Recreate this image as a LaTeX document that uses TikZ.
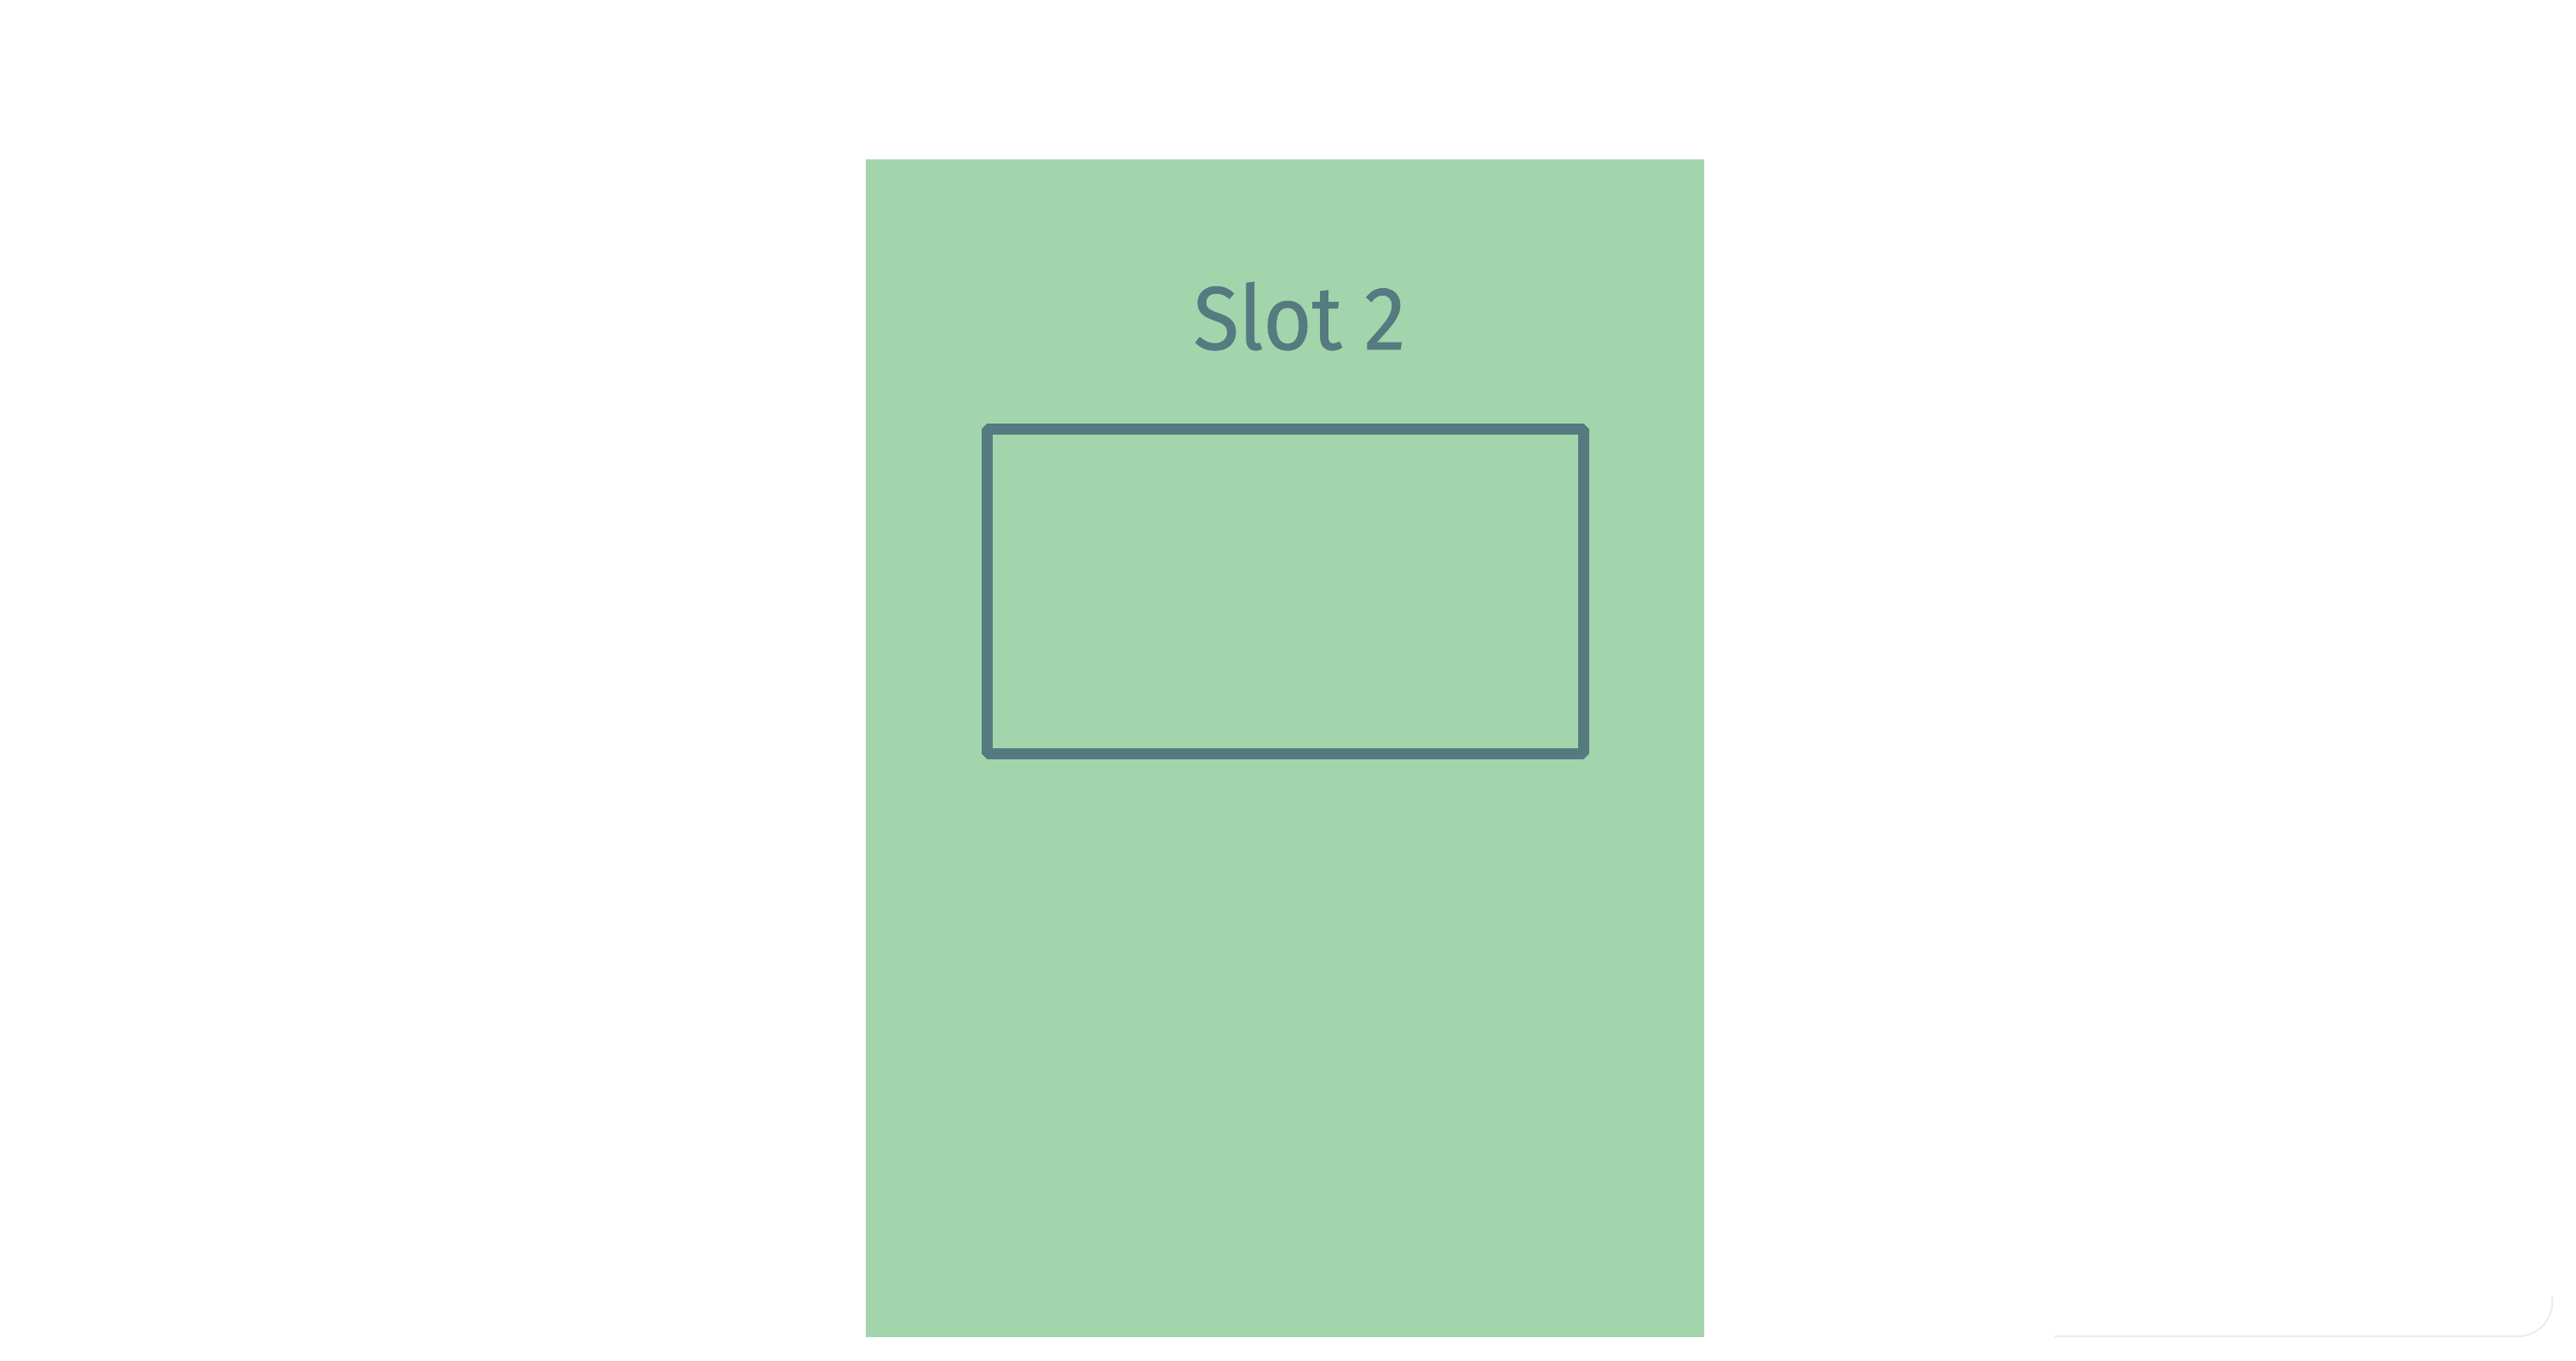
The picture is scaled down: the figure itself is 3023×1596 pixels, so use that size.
\documentclass[tikz,border=0pt]{standalone}
\usepackage{fontspec}
\setmainfont{Fira Sans}
\newfontfamily\slotfont{Fira Sans}[FakeStretch=0.93,FakeBold=0.6]
\definecolor{slotgreen}{RGB}{163,213,173}
\definecolor{slotline}{RGB}{85,122,128}
\definecolor{edgefaint}{RGB}{226,241,230}

\begin{document}
\begin{tikzpicture}[x=0.01cm,y=-0.01cm,
				slot/.style={fill=slotgreen,minimum width=9.84cm,minimum height=13.82cm,outer sep=0pt,inner sep=0pt},
				frame/.style={draw=slotline,line width=0.13cm,line join=bevel,minimum width=7cm,minimum height=3.81cm,outer sep=0pt,inner sep=0pt},
				title/.style={text=slotline,font=\slotfont\fontsize{30}{36}\selectfont,inner sep=0pt}]
				\useasboundingbox (0,0) rectangle (3023,1596);
				\node[slot]  (SLOT)  at (1508,878)   {};
				\node[frame] (FRAME) at (1508.5,694) {};
				\node[title,anchor=base] (TITLE) at (1525,410) {Slot 2};
				
				\draw[edgefaint,line width=0.6pt,rounded corners=0.4cm] (2411,1568) -- (2995,1568) -- (2995,1522);
			\end{tikzpicture}
\end{document}
